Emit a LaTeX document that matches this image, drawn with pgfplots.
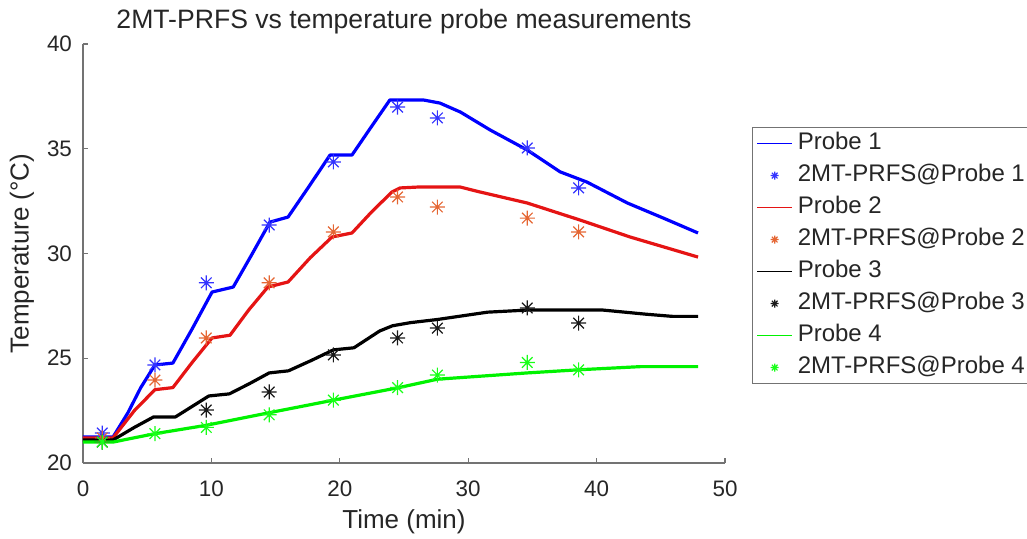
\documentclass[border=0pt]{standalone}
\usepackage{pgfplots}
\pgfplotsset{compat=1.18}
\usepackage{fontspec}
\setmainfont{Liberation Sans}
\definecolor{txt}{rgb}{0.15,0.15,0.15}
\definecolor{axc}{rgb}{0.45,0.45,0.45}
\definecolor{pblue}{rgb}{0,0,1}
\definecolor{pred}{rgb}{0.9,0.08,0.08}
\definecolor{pblack}{rgb}{0,0,0}
\definecolor{pgreen}{rgb}{0,0.95,0}
\definecolor{sblue}{rgb}{0.2,0.2,1}
\definecolor{sred}{rgb}{0.9,0.4,0.2}
\definecolor{sblack}{rgb}{0.1,0.1,0.1}
\definecolor{sgreen}{rgb}{0.1,1,0.1}
\pgfdeclareplotmark{mstar}{%
 \pgfpathmoveto{\pgfqpoint{0pt}{\pgfplotmarksize}}\pgfpathlineto{\pgfqpoint{0pt}{-\pgfplotmarksize}}%
 \pgfpathmoveto{\pgfqpoint{\pgfplotmarksize}{0pt}}\pgfpathlineto{\pgfqpoint{-\pgfplotmarksize}{0pt}}%
 \pgfpathmoveto{\pgfqpoint{.707\pgfplotmarksize}{.707\pgfplotmarksize}}\pgfpathlineto{\pgfqpoint{-.707\pgfplotmarksize}{-.707\pgfplotmarksize}}%
 \pgfpathmoveto{\pgfqpoint{.707\pgfplotmarksize}{-.707\pgfplotmarksize}}\pgfpathlineto{\pgfqpoint{-.707\pgfplotmarksize}{.707\pgfplotmarksize}}%
 \pgfusepathqstroke}
\pgfdeclareplotmark{hline}{%
 \pgfpathmoveto{\pgfqpoint{-\pgfplotmarksize}{0pt}}\pgfpathlineto{\pgfqpoint{\pgfplotmarksize}{0pt}}%
 \pgfusepathqstroke}
\begin{document}
\begin{tikzpicture}
\begin{axis}[
  scale only axis, width=321pt, height=209.5pt,
  xmin=0, xmax=50, ymin=20, ymax=40,
  xtick={0,10,...,50}, ytick={20,25,...,40},
  axis x line*=bottom, axis y line*=left,
  axis line style={draw=axc, line width=0.6pt},
  tick style={draw=axc, line width=0.6pt},
  tick align=inside, major tick length=2.5pt,
  /pgf/number format/assume math mode=true,
  ticklabel style={font=\fontsize{11.2}{13}\selectfont, text=txt},
  xticklabel style={yshift=-5.5pt},
  yticklabel style={xshift=-2pt},
  title={2MT-PRFS vs temperature probe measurements},
  every axis title/.style={font=\fontsize{13.3}{15}\selectfont, text=txt, at={(axis description cs:0.5,1.0525)}, anchor=center},
  xlabel={Time (min)},
  xlabel style={font=\fontsize{13}{15}\selectfont, text=txt, at={(axis description cs:0.5,-0.141)}, anchor=center},
  ylabel={Temperature (°C)},
  ylabel style={font=\fontsize{13}{15}\selectfont, text=txt, at={(axis description cs:-0.095,0.5)}, anchor=center, rotate=0},
  legend style={at={(1.042,0.802)}, anchor=north west, draw=axc, line width=0.6pt, inner sep=2pt,
    font=\fontsize{12}{14}\selectfont, text=txt, row sep=4pt,
    nodes={inner sep=0pt, text height=9pt, text depth=3pt}},
  legend cell align=left,
  lline/.style={line width=1.6pt, mark=none, line join=round},
  lleg/.style={only marks, mark=hline, mark size=8.75pt, mark options={line width=0.8pt},
    legend image code/.code={\draw[##1] plot coordinates {(8.75pt,0pt)}; \path (0pt,0pt) (20pt,0pt);}},
  sstar/.style={only marks, mark=mstar, mark size=3.75pt, mark options={line width=0.6pt},
    legend image code/.code={\draw[##1, mark size=2pt] plot coordinates {(8.75pt,0pt)}; \path (0pt,0pt) (20pt,0pt);}},
]
\addlegendimage{lleg, pblue}
\addlegendentry{Probe 1}
\addlegendimage{sstar, sblue}
\addlegendentry{2MT-PRFS@Probe 1}
\addlegendimage{lleg, pred}
\addlegendentry{Probe 2}
\addlegendimage{sstar, sred}
\addlegendentry{2MT-PRFS@Probe 2}
\addlegendimage{lleg, pblack}
\addlegendentry{Probe 3}
\addlegendimage{sstar, sblack}
\addlegendentry{2MT-PRFS@Probe 3}
\addlegendimage{lleg, pgreen}
\addlegendentry{Probe 4}
\addlegendimage{sstar, sgreen}
\addlegendentry{2MT-PRFS@Probe 4}
\addplot[lline, pblue, forget plot] coordinates {
(0,21.24) (2.34,21.24) (3.5,22.4) (4.5,23.6) (5.6,24.68) (7.0,24.77) (8.5,26.4) (10.05,28.16) (11.7,28.4)
(13.1,29.9) (14.56,31.5) (15.97,31.74) (17.6,33.2) (19.24,34.7) (20.95,34.7) (22.4,36.0) (23.9,37.33)
(26.5,37.33) (27.8,37.18) (29.4,36.75) (31.7,35.9) (34.6,34.94) (37.15,33.9) (39.25,33.41) (42.4,32.41)
(45.2,31.69) (47.9,30.98)};
\addplot[sstar, sblue, forget plot] coordinates {
(1.5,21.43) (5.6,24.68) (9.6,28.6) (14.5,31.36) (19.5,34.37) (24.5,36.99) (27.6,36.47) (34.6,35.04) (38.6,33.13)};
\addplot[lline, pred, forget plot] coordinates {
(0,21.2) (2.34,21.2) (4.0,22.5) (5.6,23.5) (7.0,23.6) (8.5,24.8) (10.05,25.97) (11.45,26.1) (12.9,27.3)
(14.4,28.4) (15.97,28.64) (17.7,29.8) (19.4,30.79) (20.95,30.98) (22.5,32.0) (24.07,32.94) (24.7,33.13)
(26,33.17) (29.4,33.17) (30.9,32.94) (34.6,32.41) (38.7,31.6) (42.6,30.79) (47.9,29.83)};
\addplot[sstar, sred, forget plot] coordinates {
(1.5,21.2) (5.6,23.96) (9.6,25.97) (14.5,28.6) (19.5,31.03) (24.5,32.7) (27.6,32.22) (34.6,31.69) (38.6,31.03)};
\addplot[lline, pblack, forget plot] coordinates {
(0,21.1) (2.34,21.1) (4.0,21.7) (5.5,22.2) (7.2,22.2) (8.5,22.7) (9.8,23.2) (11.4,23.3) (13.0,23.8) (14.5,24.3)
(16.0,24.4) (17.8,24.9) (19.5,25.4) (21.1,25.5) (23.1,26.3) (24.1,26.55) (25.5,26.7) (27.6,26.85) (31.5,27.2)
(34.6,27.3) (40.5,27.3) (43.9,27.1) (45.9,27.0) (47.9,27.0)};
\addplot[sstar, sblack, forget plot] coordinates {
(1.5,21.0) (9.6,22.53) (14.5,23.39) (19.5,25.16) (24.5,25.97) (27.6,26.44) (34.6,27.4) (38.6,26.68)};
\addplot[lline, pgreen, forget plot] coordinates {
(0,21.0) (2.34,21.0) (5.6,21.4) (9.6,21.8) (14.5,22.4) (19.5,23.0) (24.6,23.6) (27.6,24.0) (34.6,24.3)
(38.6,24.45) (43.4,24.6) (47.9,24.6)};
\addplot[sstar, sgreen, forget plot] coordinates {
(1.5,21.0) (5.6,21.4) (9.6,21.7) (14.5,22.3) (19.5,23.0) (24.5,23.6) (27.6,24.2) (34.6,24.8) (38.6,24.45)};
\end{axis}
\pgfresetboundingbox
\path[use as bounding box] (-41.5pt,-37.5pt) rectangle (472pt,231.5pt);
\end{tikzpicture}
\end{document}
